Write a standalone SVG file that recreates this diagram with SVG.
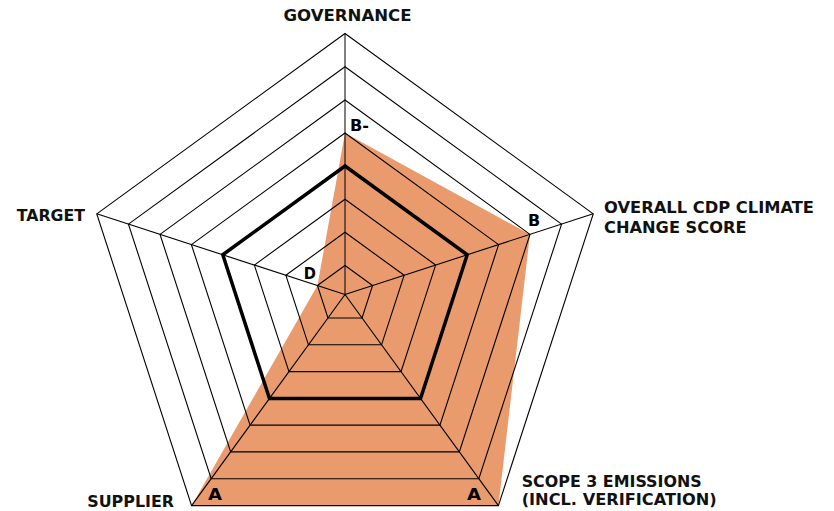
<svg xmlns="http://www.w3.org/2000/svg" width="834" height="511" viewBox="0 0 834 511">
<style>
.ring{fill:none;stroke:#000;stroke-width:1.1;stroke-linejoin:miter}
.spoke{stroke:#000;stroke-width:1.1}
.axis{stroke:#000;stroke-opacity:0.5;stroke-width:2}
.lbl{font-family:"DejaVu Sans","Liberation Sans",sans-serif;font-weight:bold;font-size:16px;fill:#111}
.score{font-family:"DejaVu Sans","Liberation Sans",sans-serif;font-weight:bold;font-size:15.5px;fill:#000}
</style>
<rect width="834" height="511" fill="#fff"/>
<g id="data-area">
<polygon points="345,133 529.98,234.4 498.41,505.65 191.59,505.65 317.42,285.54" fill="#E99B6D"/>
</g>
<g id="grid">
<polygon class="ring" points="345,265.5 372.58,285.54 362.05,317.96 327.95,317.96 317.42,285.54"/>
<polygon class="ring" points="345,232.3 404.16,275.28 381.56,344.82 308.44,344.82 285.84,275.28"/>
<polygon class="ring" points="345,199.2 435.64,265.05 401.02,371.6 288.98,371.6 254.36,265.05"/>
<polygon class="ring" points="345,166 467.21,254.79 420.53,398.46 269.47,398.46 222.79,254.79"/>
<polygon class="ring" points="345,133 498.6,244.59 439.93,425.16 250.07,425.16 191.4,244.59"/>
<polygon class="ring" points="345,100 529.98,234.4 459.33,451.85 230.67,451.85 160.02,234.4"/>
<polygon class="ring" points="345,66.8 561.56,224.14 478.84,478.71 211.16,478.71 128.44,224.14"/>
<polygon class="ring" points="345,33.5 593.23,213.85 498.41,505.65 191.59,505.65 96.77,213.85"/>
</g>
<g id="connectors">
<line class="spoke" x1="345" y1="294.5" x2="593.23" y2="213.85"/>
<line class="spoke" x1="345" y1="294.5" x2="498.41" y2="505.65"/>
<line class="spoke" x1="345" y1="294.5" x2="191.59" y2="505.65"/>
<line class="spoke" x1="345" y1="294.5" x2="96.77" y2="213.85"/>
<line class="axis" x1="345" y1="294.5" x2="345" y2="33.5"/>
</g>
<g id="benchmark">
<polygon points="345,166 467.21,254.79 420.53,398.46 269.47,398.46 222.79,254.79" fill="none" stroke="#000" stroke-width="3.5" stroke-linejoin="miter"/>
</g>
<g id="node-governance">
<text class="lbl" x="347.5" y="20.5" text-anchor="middle" textLength="128" lengthAdjust="spacingAndGlyphs">GOVERNANCE</text>
<text class="score" x="350" y="131" textLength="19" lengthAdjust="spacingAndGlyphs">B-</text>
</g>
<g id="node-overall">
<text class="lbl" x="604" y="212.7" textLength="210" lengthAdjust="spacingAndGlyphs">OVERALL CDP CLIMATE</text>
<text class="lbl" x="604" y="232.5" textLength="142.5" lengthAdjust="spacingAndGlyphs">CHANGE SCORE</text>
<text class="score" x="528" y="226.3" textLength="12.2" lengthAdjust="spacingAndGlyphs">B</text>
</g>
<g id="node-scope3">
<text class="lbl" x="521.7" y="486.7" textLength="180" lengthAdjust="spacingAndGlyphs">SCOPE 3 EMISSIONS</text>
<text class="lbl" x="521.7" y="505.3" textLength="195" lengthAdjust="spacingAndGlyphs">(INCL. VERIFICATION)</text>
<text class="score" x="467" y="499.5" textLength="14" lengthAdjust="spacingAndGlyphs">A</text>
</g>
<g id="node-supplier">
<text class="lbl" x="87.3" y="506.7" textLength="86.7" lengthAdjust="spacingAndGlyphs">SUPPLIER</text>
<text class="score" x="208" y="499.5" textLength="14" lengthAdjust="spacingAndGlyphs">A</text>
</g>
<g id="node-target">
<text class="lbl" x="16.7" y="221" textLength="68.3" lengthAdjust="spacingAndGlyphs">TARGET</text>
<text class="score" x="303.8" y="279" textLength="12.2" lengthAdjust="spacingAndGlyphs">D</text>
</g>
</svg>
